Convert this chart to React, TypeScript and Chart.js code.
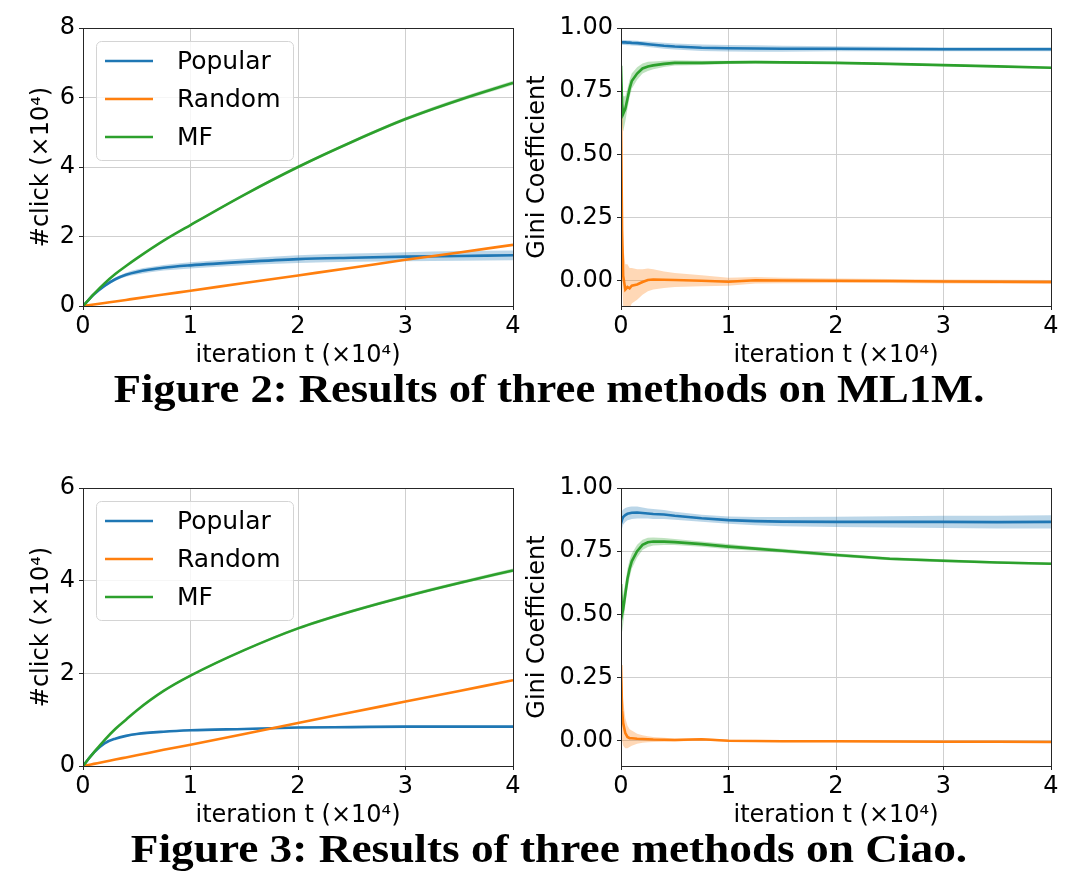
import React, { useEffect, useRef } from 'react';
import { Chart, registerables } from 'chart.js';

Chart.register(...registerables);

// ---------- data ----------
const seriesNames = ['Popular', 'Random', 'MF'];
const xTicks = [0, 1, 2, 3, 4];
const clickTicksML1M = [0, 2, 4, 6, 8];
const clickTicksCiao = [0, 2, 4, 6];
const giniTicks = [0, 0.25, 0.5, 0.75, 1.0];

// iteration t (x10^4) for #click panels
const clickIter = [0, 0.05, 0.1, 0.2, 0.3, 0.4, 0.5, 0.75, 1, 1.5, 2, 2.5, 3, 3.5, 4];

// ML1M #click (x10^4)
const ml1mPopularClicks = [0, 0.17, 0.33, 0.58, 0.77, 0.9, 0.98, 1.1, 1.17, 1.27, 1.35, 1.39, 1.42, 1.44, 1.46];
const ml1mPopularClicksSpread = [0, 0.005, 0.01, 0.03, 0.05, 0.06, 0.07, 0.08, 0.09, 0.1, 0.11, 0.12, 0.13, 0.14, 0.14];
const ml1mRandomClicks = [0, 0.022, 0.044, 0.088, 0.13, 0.175, 0.22, 0.33, 0.44, 0.66, 0.88, 1.1, 1.33, 1.54, 1.76];
const ml1mRandomClicksSpread = [0, 0.003, 0.005, 0.005, 0.005, 0.008, 0.01, 0.01, 0.01, 0.01, 0.01, 0.012, 0.012, 0.014, 0.015];
const ml1mMFClicks = [0, 0.17, 0.34, 0.65, 0.92, 1.15, 1.37, 1.88, 2.33, 3.2, 4.0, 4.72, 5.38, 5.93, 6.42];
const ml1mMFClicksSpread = [0, 0.005, 0.01, 0.01, 0.015, 0.018, 0.02, 0.025, 0.03, 0.035, 0.04, 0.045, 0.05, 0.055, 0.06];

// Ciao #click (x10^4)
const ciaoPopularClicks = [0, 0.15, 0.29, 0.49, 0.59, 0.65, 0.69, 0.74, 0.77, 0.8, 0.83, 0.84, 0.85, 0.85, 0.85];
const ciaoPopularClicksSpread = [0, 0.005, 0.01, 0.015, 0.015, 0.02, 0.02, 0.02, 0.02, 0.02, 0.02, 0.02, 0.02, 0.02, 0.02];
const ciaoRandomClicks = [0, 0.023, 0.046, 0.092, 0.14, 0.185, 0.23, 0.35, 0.46, 0.69, 0.93, 1.16, 1.39, 1.62, 1.85];
const ciaoRandomClicksSpread = [0, 0.003, 0.005, 0.005, 0.005, 0.005, 0.005, 0.008, 0.008, 0.008, 0.01, 0.01, 0.01, 0.01, 0.01];
const ciaoMFClicks = [0, 0.15, 0.29, 0.56, 0.8, 1.0, 1.2, 1.62, 1.95, 2.5, 2.97, 3.34, 3.66, 3.95, 4.22];
const ciaoMFClicksSpread = [0, 0.005, 0.01, 0.01, 0.015, 0.02, 0.02, 0.02, 0.025, 0.025, 0.03, 0.03, 0.035, 0.035, 0.04];

// iteration t (x10^4) for Gini panels
const giniIter = [0, 0.01, 0.02, 0.04, 0.06, 0.08, 0.1, 0.15, 0.2, 0.25, 0.3, 0.4, 0.5, 0.75, 1, 1.25, 1.5, 2, 2.5, 3, 3.5, 4];

// ML1M Gini
const ml1mPopularGini = [0.945, 0.944, 0.943, 0.943, 0.942, 0.942, 0.941, 0.94, 0.938, 0.936, 0.934, 0.93, 0.927, 0.922, 0.92, 0.919, 0.918, 0.918, 0.917, 0.916, 0.916, 0.916];
const ml1mPopularGiniSpread = [0.01, 0.01, 0.01, 0.01, 0.01, 0.01, 0.01, 0.01, 0.01, 0.011, 0.011, 0.012, 0.012, 0.013, 0.013, 0.013, 0.012, 0.01, 0.009, 0.008, 0.008, 0.008];
const ml1mRandomGini = [0.66, 0.2, 0.02, -0.035, -0.025, -0.03, -0.02, -0.015, -0.005, 0.003, 0.005, 0.004, 0.003, 0.0, -0.004, 0.002, 0.001, 0.0, -0.001, -0.003, -0.004, -0.005];
const ml1mRandomGiniSpread = [0.3, 0.2, 0.12, 0.1, 0.09, 0.08, 0.07, 0.06, 0.05, 0.045, 0.04, 0.033, 0.028, 0.022, 0.016, 0.013, 0.011, 0.009, 0.008, 0.008, 0.008, 0.008];
const ml1mMFGini = [0.85, 0.7, 0.66, 0.68, 0.72, 0.76, 0.79, 0.82, 0.84, 0.848, 0.852, 0.858, 0.862, 0.862, 0.864, 0.865, 0.864, 0.862, 0.858, 0.853, 0.848, 0.843];
const ml1mMFGiniSpread = [0.1, 0.08, 0.07, 0.05, 0.04, 0.035, 0.03, 0.025, 0.02, 0.018, 0.015, 0.012, 0.01, 0.008, 0.006, 0.005, 0.005, 0.004, 0.004, 0.004, 0.004, 0.004];

// Ciao Gini
const ciaoPopularGini = [0.86, 0.875, 0.885, 0.893, 0.898, 0.9, 0.902, 0.903, 0.901, 0.899, 0.897, 0.895, 0.89, 0.88, 0.873, 0.869, 0.867, 0.866, 0.866, 0.866, 0.865, 0.866];
const ciaoPopularGiniSpread = [0.04, 0.035, 0.03, 0.028, 0.026, 0.026, 0.025, 0.024, 0.022, 0.02, 0.02, 0.018, 0.016, 0.014, 0.014, 0.016, 0.018, 0.02, 0.022, 0.024, 0.025, 0.026];
const ciaoRandomGini = [0.3, 0.12, 0.07, 0.03, 0.015, 0.01, 0.01, 0.008, 0.007, 0.006, 0.005, 0.004, 0.003, 0.006, 0.0, -0.001, -0.002, -0.002, -0.003, -0.004, -0.004, -0.005];
const ciaoRandomGiniSpread = [0.15, 0.12, 0.09, 0.06, 0.045, 0.035, 0.03, 0.02, 0.015, 0.012, 0.01, 0.008, 0.006, 0.005, 0.004, 0.004, 0.004, 0.004, 0.004, 0.004, 0.004, 0.004];
const ciaoMFGini = [0.62, 0.5, 0.52, 0.58, 0.64, 0.68, 0.71, 0.75, 0.775, 0.785, 0.788, 0.788, 0.786, 0.778, 0.768, 0.76, 0.752, 0.735, 0.72, 0.712, 0.705, 0.7];
const ciaoMFGiniSpread = [0.08, 0.07, 0.06, 0.045, 0.04, 0.035, 0.03, 0.025, 0.02, 0.018, 0.016, 0.014, 0.012, 0.01, 0.01, 0.008, 0.008, 0.007, 0.006, 0.006, 0.005, 0.005];

const captionML1M = 'Figure 2: Results of three methods on ML1M.';
const captionCiao = 'Figure 3: Results of three methods on Ciao.';

// ---------- styles ----------
const FONT = "'DejaVu Sans', sans-serif";
const FS = 24;
const LEGEND_FS = 25;
const COLORS = ['#1f77b4', '#ff7f0e', '#2ca02c'];
const BANDS = ['rgba(31,119,180,0.3)', 'rgba(255,127,14,0.3)', 'rgba(44,160,44,0.3)'];

type Series = { y: number[]; s: number[] };

function buildDatasets(xs: number[], series: Series[], smooth: boolean) {
  const lines: any[] = [];
  const bands: any[] = [];
  const interp = smooth ? 'monotone' : 'default';
  series.forEach((ser, k) => {
    bands.push({
      data: xs.map((x, i) => ({ x, y: ser.y[i] + ser.s[i] })),
      borderWidth: 0, pointRadius: 0, fill: '+1', backgroundColor: BANDS[k], order: 10,
      cubicInterpolationMode: interp,
    });
    bands.push({
      data: xs.map((x, i) => ({ x, y: ser.y[i] - ser.s[i] })),
      borderWidth: 0, pointRadius: 0, fill: false, backgroundColor: 'transparent', order: 10,
      cubicInterpolationMode: interp,
    });
  });
  // MF on top, then Random, then Popular
  const lineOrder = [3, 2, 1];
  series.forEach((ser, k) => {
    lines.push({
      data: xs.map((x, i) => ({ x, y: ser.y[i] })),
      borderColor: COLORS[k], borderWidth: 2.6, pointRadius: 0, fill: false,
      cubicInterpolationMode: interp,
      order: lineOrder[k],
    });
  });
  return [...bands, ...lines];
}

type PanelProps = {
  left: number; top: number; width: number; height: number;
  area: { L: number; T: number; R: number; B: number };
  xs: number[]; series: Series[]; smooth: boolean;
  yMin: number; yMax: number; yTicks: number[]; yDecimals: number;
  yTitle: string; yTitlePad: number; xTitlePad: number;
  legend?: { x: number; y: number; w: number; h: number };
};

function Panel(p: PanelProps) {
  const ref = useRef<HTMLCanvasElement>(null);
  useEffect(() => {
    const font = { family: FONT, size: FS };
    const framePlugin = {
      id: 'frame',
      afterDatasetsDraw(chart: any) {
        const { ctx, chartArea: a } = chart;
        ctx.save();
        ctx.strokeStyle = '#262626';
        ctx.lineWidth = 1;
        ctx.strokeRect(Math.round(a.left) + 0.5, Math.round(a.top) + 0.5, Math.round(a.right - a.left), Math.round(a.bottom - a.top));
        ctx.restore();
      },
    };
    const legendPlugin = {
      id: 'mplLegend',
      afterDraw(chart: any) {
        if (!p.legend) return;
        const { ctx } = chart;
        const b = p.legend;
        ctx.save();
        ctx.beginPath();
        (ctx as any).roundRect(b.x + 0.5, b.y + 0.5, b.w, b.h, 5);
        ctx.fillStyle = 'rgba(255,255,255,0.8)';
        ctx.fill();
        ctx.strokeStyle = '#d4d4d4';
        ctx.lineWidth = 1;
        ctx.stroke();
        ctx.font = `${LEGEND_FS}px ${FONT}`;
        ctx.textBaseline = 'middle';
        ctx.fillStyle = '#000';
        seriesNames.forEach((name, k) => {
          const y = b.y + 20 + k * 38;
          ctx.beginPath();
          ctx.strokeStyle = COLORS[k];
          ctx.lineWidth = 2.6;
          ctx.moveTo(b.x + 9, y);
          ctx.lineTo(b.x + 57, y);
          ctx.stroke();
          ctx.fillText(name, b.x + 81, y + 1);
        });
        ctx.restore();
      },
    };
    const { L, T, R, B } = p.area;
    const chart = new Chart(ref.current!, {
      type: 'line',
      data: { datasets: buildDatasets(p.xs, p.series, p.smooth) },
      options: {
        responsive: false,
        animation: false,
        devicePixelRatio: 1,
        layout: { padding: { left: 0, top: T, right: p.width - R, bottom: 0 } },
        plugins: { legend: { display: false }, tooltip: { enabled: false } },
        scales: {
          x: {
            type: 'linear', min: 0, max: 4,
            afterBuildTicks: (s: any) => { s.ticks = xTicks.map((v) => ({ value: v })); },
            afterFit: (s: any) => { s.height = p.height - B; },
            ticks: { font, color: '#000', padding: 2, maxRotation: 0, autoSkip: false, callback: (v: any) => String(v) },
            grid: { color: '#cfcfcf', lineWidth: 1, tickLength: 4, tickColor: '#262626', drawTicks: true },
            border: { display: false },
            title: { display: true, text: 'iteration t (×10⁴)', font, color: '#000', padding: { top: 0, bottom: p.xTitlePad } },
          },
          y: {
            type: 'linear', min: p.yMin, max: p.yMax,
            afterBuildTicks: (s: any) => { s.ticks = p.yTicks.map((v) => ({ value: v })); },
            afterFit: (s: any) => { s.width = L; },
            ticks: { font, color: '#000', padding: 4, autoSkip: false, callback: (v: any) => Number(v).toFixed(p.yDecimals) },
            grid: { color: '#cfcfcf', lineWidth: 1, tickLength: 4, tickColor: '#262626', drawTicks: true },
            border: { display: false },
            title: { display: true, text: p.yTitle, font, color: '#000', padding: { top: p.yTitlePad, bottom: 0 } },
          },
        },
      } as any,
      plugins: [framePlugin, legendPlugin],
    });
    return () => chart.destroy();
  }, []);
  return (
    <canvas
      ref={ref}
      width={p.width}
      height={p.height}
      style={{ position: 'absolute', left: p.left, top: p.top, width: p.width, height: p.height }}
    />
  );
}

function Caption({ text, top, scale }: { text: string; top: number; scale: number }) {
  return (
    <div
      style={{
        position: 'absolute', left: 49, top, width: 1000, textAlign: 'center',
        fontFamily: "'Liberation Serif', serif", fontWeight: 'bold', fontSize: 41, lineHeight: '41px',
        color: '#000', whiteSpace: 'nowrap', transform: `scaleX(${scale})`, transformOrigin: '50% 50%',
      }}
    >
      {text}
    </div>
  );
}

export default function App() {
  const W = 540;
  const H = 380;
  const RW = 561;
  return (
    <div style={{ position: 'absolute', left: 0, top: 0, width: 1081, height: 882, background: '#fff', overflow: 'hidden' }}>
      <Panel
        left={0} top={0} width={W} height={H}
        area={{ L: 83, T: 28, R: 513, B: 306 }}
        xs={clickIter} smooth={true}
        series={[
          { y: ml1mPopularClicks, s: ml1mPopularClicksSpread },
          { y: ml1mRandomClicks, s: ml1mRandomClicksSpread },
          { y: ml1mMFClicks, s: ml1mMFClicksSpread },
        ]}
        yMin={0} yMax={8} yTicks={clickTicksML1M} yDecimals={0}
        yTitle="#click (×10⁴)" yTitlePad={27} xTitlePad={10}
        legend={{ x: 96, y: 41, w: 197, h: 119 }}
      />
      <Panel
        left={520} top={0} width={RW} height={H}
        area={{ L: 101, T: 28, R: 531, B: 306 }}
        xs={giniIter} smooth={false}
        series={[
          { y: ml1mPopularGini, s: ml1mPopularGiniSpread },
          { y: ml1mRandomGini, s: ml1mRandomGiniSpread },
          { y: ml1mMFGini, s: ml1mMFGiniSpread },
        ]}
        yMin={-0.1} yMax={1.0} yTicks={giniTicks} yDecimals={2}
        yTitle="Gini Coefficient" yTitlePad={3} xTitlePad={10}
      />
      <Panel
        left={0} top={460} width={W} height={H}
        area={{ L: 83, T: 28, R: 513, B: 306 }}
        xs={clickIter} smooth={true}
        series={[
          { y: ciaoPopularClicks, s: ciaoPopularClicksSpread },
          { y: ciaoRandomClicks, s: ciaoRandomClicksSpread },
          { y: ciaoMFClicks, s: ciaoMFClicksSpread },
        ]}
        yMin={0} yMax={6} yTicks={clickTicksCiao} yDecimals={0}
        yTitle="#click (×10⁴)" yTitlePad={27} xTitlePad={10}
        legend={{ x: 96, y: 41, w: 197, h: 119 }}
      />
      <Panel
        left={520} top={460} width={RW} height={H}
        area={{ L: 101, T: 28, R: 531, B: 306 }}
        xs={giniIter} smooth={false}
        series={[
          { y: ciaoPopularGini, s: ciaoPopularGiniSpread },
          { y: ciaoRandomGini, s: ciaoRandomGiniSpread },
          { y: ciaoMFGini, s: ciaoMFGiniSpread },
        ]}
        yMin={-0.1} yMax={1.0} yTicks={giniTicks} yDecimals={2}
        yTitle="Gini Coefficient" yTitlePad={3} xTitlePad={10}
      />
      <Caption text={captionML1M} top={368} scale={1.088} />
      <Caption text={captionCiao} top={828} scale={1.105} />
    </div>
  );
}
